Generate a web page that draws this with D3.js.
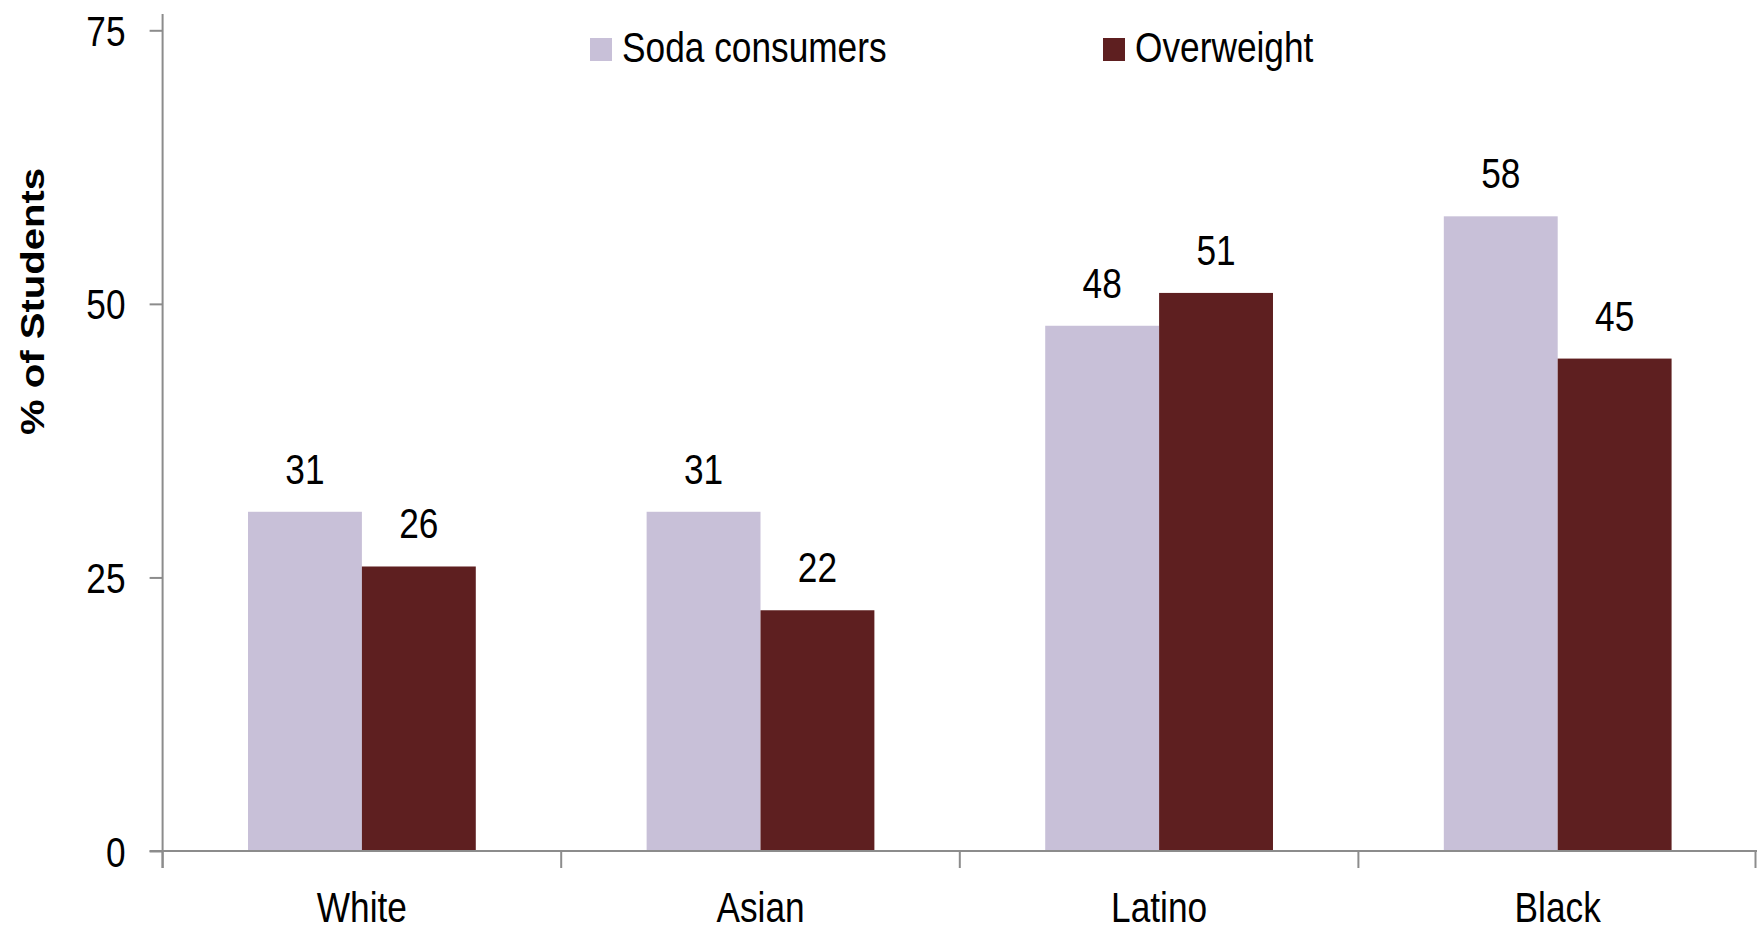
<!DOCTYPE html>
<html>
<head>
<meta charset="utf-8">
<script src="https://cdn.jsdelivr.net/npm/d3@7/dist/d3.min.js"></script>
<style>
  html, body { margin: 0; padding: 0; background: #ffffff; }
  svg { display: block; }
  .lbl { font-family: "Liberation Sans", Arial, sans-serif; fill: #000; }
</style>
</head>
<body>
<svg id="chart" width="1758" height="932"></svg>
<script>
// Share of students by group
const categories = ["White", "Asian", "Latino", "Black"];
const seriesNames = ["Soda consumers", "Overweight"];
const sodaConsumers = [31, 31, 48, 58];
const overweight = [26, 22, 51, 45];
const yTicks = [0, 25, 50, 75];
const yTitle = "% of Students";

const colors = { "Soda consumers": "#c8c0d8", "Overweight": "#5e1f20" };
const seriesValues = { "Soda consumers": sodaConsumers, "Overweight": overweight };

const svg = d3.select("#chart");
const plotLeft = 162.6, plotRight = 1757, plotTop = 30.3, plotBottom = 851;
const fontSize = 42;
const narrow = 0.84; // horizontal squeeze for the condensed label face

// Replace x/y with a transform so the glyphs can be narrowed in place
function squeeze(sel) {
  sel.each(function () {
    const t = d3.select(this);
    const x = +t.attr("x") || 0, y = +t.attr("y") || 0;
    t.attr("x", null).attr("y", null).attr("dy", null)
      .attr("transform", `translate(${x},${y}) scale(${narrow},1)`);
  });
}

const x0 = d3.scaleBand().domain(categories).range([plotLeft, plotRight]).padding(0);
const x1 = d3.scaleBand().domain(seriesNames).range([0, x0.bandwidth()])
  .paddingInner(0).paddingOuter(0.75);
const y = d3.scaleLinear().domain([0, 75]).range([plotBottom, plotTop]);

const axisColor = "#8c8c8c";

// Bars
const groups = svg.append("g").selectAll("g")
  .data(categories)
  .join("g")
  .attr("transform", d => `translate(${x0(d)},0)`);

groups.selectAll("rect")
  .data((c, i) => seriesNames.map(s => ({ s, v: seriesValues[s][i] })))
  .join("rect")
  .attr("x", d => x1(d.s))
  .attr("y", d => y(d.v))
  .attr("width", x1.bandwidth())
  .attr("height", d => y(0) - y(d.v))
  .attr("fill", d => colors[d.s]);

// Value labels above bars
groups.selectAll("text")
  .data((c, i) => seriesNames.map(s => ({ s, v: seriesValues[s][i] })))
  .join("text")
  .attr("class", "lbl")
  .attr("x", d => x1(d.s) + x1.bandwidth() / 2)
  .attr("y", d => y(d.v) - 28)
  .attr("text-anchor", "middle")
  .attr("font-size", fontSize)
  .text(d => d.v)
  .call(squeeze);

// Y axis
const yAxis = svg.append("g")
  .attr("transform", `translate(${plotLeft},0)`)
  .call(d3.axisLeft(y).tickValues(yTicks).tickSize(13).tickPadding(24).tickFormat(d3.format("d")));
yAxis.select(".domain").remove();
yAxis.selectAll(".tick line").attr("stroke", axisColor).attr("stroke-width", 2);
yAxis.selectAll(".tick text")
  .attr("class", "lbl")
  .attr("font-size", fontSize)
  .attr("y", 15)
  .call(squeeze);
svg.append("line")
  .attr("x1", plotLeft).attr("x2", plotLeft)
  .attr("y1", 14).attr("y2", plotBottom + 17)
  .attr("stroke", axisColor).attr("stroke-width", 2);

// X axis
const xAxis = svg.append("g")
  .attr("transform", `translate(0,${plotBottom})`)
  .call(d3.axisBottom(x0).tickSize(0).tickPadding(0));
xAxis.select(".domain").remove();
xAxis.selectAll(".tick text")
  .attr("class", "lbl")
  .attr("font-size", fontSize)
  .attr("y", 71)
  .call(squeeze);
svg.append("line")
  .attr("x1", plotLeft - 13).attr("x2", plotRight)
  .attr("y1", plotBottom).attr("y2", plotBottom)
  .attr("stroke", axisColor).attr("stroke-width", 2);
const boundaries = categories.map(c => x0(c)).concat([x0.range()[1] - 1.5]);
svg.append("g").selectAll("line")
  .data(boundaries)
  .join("line")
  .attr("x1", d => d).attr("x2", d => d)
  .attr("y1", plotBottom).attr("y2", plotBottom + 17)
  .attr("stroke", axisColor).attr("stroke-width", 2);

// Y axis title
svg.append("text")
  .attr("transform", "translate(44,301.5) rotate(-90)")
  .attr("text-anchor", "middle")
  .attr("font-family", "'Liberation Sans', Arial, sans-serif")
  .attr("font-weight", "bold")
  .attr("font-size", 33)
  .attr("textLength", 267)
  .attr("lengthAdjust", "spacingAndGlyphs")
  .text(yTitle);

// Legend
const legendPos = [{ x: 590 }, { x: 1103 }];
const legend = svg.append("g").selectAll("g")
  .data(seriesNames)
  .join("g")
  .attr("transform", (d, i) => `translate(${legendPos[i].x},38)`);
legend.append("rect")
  .attr("width", 22).attr("height", 23)
  .attr("fill", d => colors[d]);
legend.append("text")
  .attr("class", "lbl")
  .attr("x", 32)
  .attr("y", 24)
  .attr("font-size", fontSize)
  .text(d => d)
  .call(squeeze);
</script>
</body>
</html>
